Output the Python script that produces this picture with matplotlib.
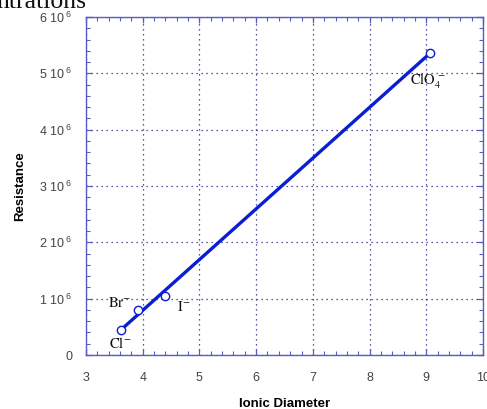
import numpy as np
import matplotlib.pyplot as plt
from matplotlib.ticker import MultipleLocator, FuncFormatter

plt.rcParams['font.family'] = ['Liberation Sans', 'DejaVu Sans']
plt.rcParams['mathtext.fontset'] = 'custom'
plt.rcParams['mathtext.rm'] = 'Liberation Sans'
plt.rcParams['mathtext.it'] = 'Liberation Sans'

# data
ions = [r"$\mathrm{Cl}^{-}$", r"$\mathrm{Br}^{-}$", r"$\mathrm{I}^{-}$", r"$\mathrm{ClO}_4^{\,-}$"]
diameter = [3.62, 3.92, 4.40, 9.07]
resistance = [0.45e6, 0.80e6, 1.05e6, 5.36e6]
# fitted line end points
fit_x = [3.62, 9.07]
fit_y = [0.45e6, 5.36e6]
# label anchor points
label_x = [3.60, 3.60, 4.72, 9.02]
label_y = [0.21e6, 0.93e6, 0.86e6, 4.86e6]

blue = '#0a1ed2'
spine = '#5a5ac8'
grid = '#22228a'

fig = plt.figure(figsize=(4.87, 4.09), dpi=100)
ax = fig.add_axes([86 / 487, 54 / 409, 397 / 487, 338 / 409])

ax.plot(fit_x, fit_y, color=blue, lw=2.4, zorder=3)
ax.plot(diameter, resistance, 'o', ms=6, mfc='white', mec=blue, mew=1.0, zorder=4)

for name, tx, ty in zip(ions, label_x, label_y):
    ax.text(tx, ty, name, ha='center', va='center', fontsize=10.5,
            color='#111111', math_fontfamily='stix', zorder=5)

ax.set_xlim(3, 10)
ax.set_ylim(0, 6e6)
ax.xaxis.set_major_locator(MultipleLocator(1))
ax.xaxis.set_minor_locator(MultipleLocator(0.2))
ax.yaxis.set_major_locator(MultipleLocator(1e6))
ax.yaxis.set_minor_locator(MultipleLocator(0.2e6))


def fmt(v, pos):
    n = int(round(v / 1e6))
    if n == 0:
        return "0"
    return f"{n} 10$^{{\\,\\,6}}$"


ax.yaxis.set_major_formatter(FuncFormatter(fmt))
ax.tick_params(which='both', direction='in', top=True, right=True, colors=spine,
               labelcolor='#444444', labelsize=9)
ax.tick_params(which='major', length=4, width=0.9)
ax.tick_params(which='minor', length=3, width=0.8)
ax.tick_params(axis='x', which='major', pad=12)
ax.tick_params(axis='y', which='major', pad=10)
for s in ax.spines.values():
    s.set_color(spine)
    s.set_linewidth(1.0)

ax.grid(True, which='major', linestyle=(0, (1, 3)), color=grid, lw=0.9)
ax.set_axisbelow(True)

ax.set_xlabel("Ionic Diameter", fontsize=9.5, fontweight='bold', labelpad=10)
ax.set_ylabel("Resistance", fontsize=9.5, fontweight='bold', labelpad=9)

fig.text(-0.008, 1 - 8 / 409, "ntrations", fontsize=18.5, family='Liberation Serif',
         va='baseline', ha='left', color='#111111')

fig.savefig("out.png", dpi=100)
